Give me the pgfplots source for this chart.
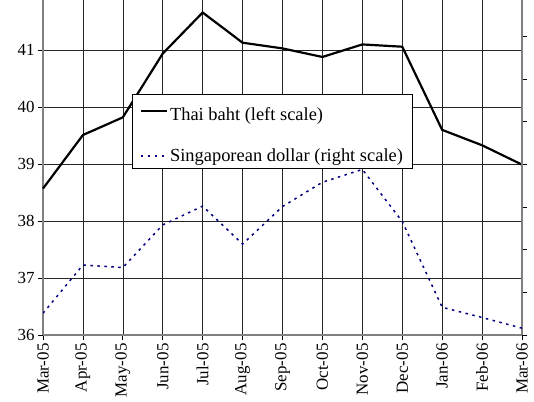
\documentclass[border=0pt]{standalone}
\usepackage{pgfplots}
\pgfplotsset{compat=1.18}
\usepackage{fontspec}
\setmainfont{Liberation Serif}
\definecolor{axgray}{RGB}{128,128,128}
\definecolor{navyblue}{RGB}{0,0,128}
\begin{document}
\begin{tikzpicture}
\useasboundingbox (0,0) rectangle (534bp,402bp);
\begin{axis}[
  at={(43bp,67bp)}, anchor=south west,
  scale only axis, width=479bp, height=335bp,
  xmin=0, xmax=12, ymin=36, ymax=41.88,
  xtick={0,...,12},
  xticklabels={Mar-05,Apr-05,May-05,Jun-05,Jul-05,Aug-05,Sep-05,Oct-05,Nov-05,Dec-05,Jan-06,Feb-06,Mar-06},
  ytick={36,...,41},
  x tick label style={rotate=90, anchor=east, font=\fontsize{17}{18}\selectfont},
  y tick label style={font=\fontsize{17}{18}\selectfont},
  /pgf/number format/assume math mode=true,
  tick align=outside, major tick length=5bp,
  tick style={black, line width=0.8pt},
  xtick pos=bottom, ytick pos=left,
  axis x line*=bottom, axis y line*=left,
  axis line style={axgray, line width=1.4pt, -},
  grid=major, major grid style={black!85, line width=0.6pt},
  clip=false,
]
\addplot[black, line width=2.2pt] coordinates {
(0,38.57) (1,39.51) (2,39.82) (3,40.94) (4,41.66) (5,41.13) (6,41.03)
(7,40.88) (8,41.10) (9,41.06) (10,39.60) (11,39.33) (12,38.99)};
\end{axis}
\begin{axis}[
  at={(43bp,67bp)}, anchor=south west,
  scale only axis, width=479bp, height=335bp,
  xmin=0, xmax=12, ymin=0, ymax=7.85,
  ytick={0,...,7}, yticklabels={},
  axis x line=none, axis y line*=right,
  axis line style={axgray, line width=1.4pt, -},
  tick align=outside, major tick length=5bp,
  tick style={black, line width=0.8pt},
  legend style={at={(0.186,0.719)}, anchor=north west,
    draw=black, line width=0.6pt, fill=white,
    font=\fontsize{18.5}{20}\selectfont, row sep=23bp,
    inner xsep=7.5bp, inner ysep=3bp},
  legend cell align=left,
  legend image code/.code={\draw[#1] (0bp,0bp) -- (26bp,0bp);},
]
\addlegendimage{black, line width=2.2pt}
\addlegendentry{\rule{0pt}{21bp}Thai baht (left scale)}
\addplot[navyblue, line width=1.5pt, dash pattern=on 2.5bp off 4.5bp] coordinates {
(0,0.51) (1,1.64) (2,1.58) (3,2.58) (4,3.02) (5,2.13) (6,3.01)
(7,3.58) (8,3.88) (9,2.66) (10,0.65) (11,0.41) (12,0.16)};
\addlegendentry{Singaporean dollar (right scale)}
\end{axis}
\end{tikzpicture}
\end{document}
